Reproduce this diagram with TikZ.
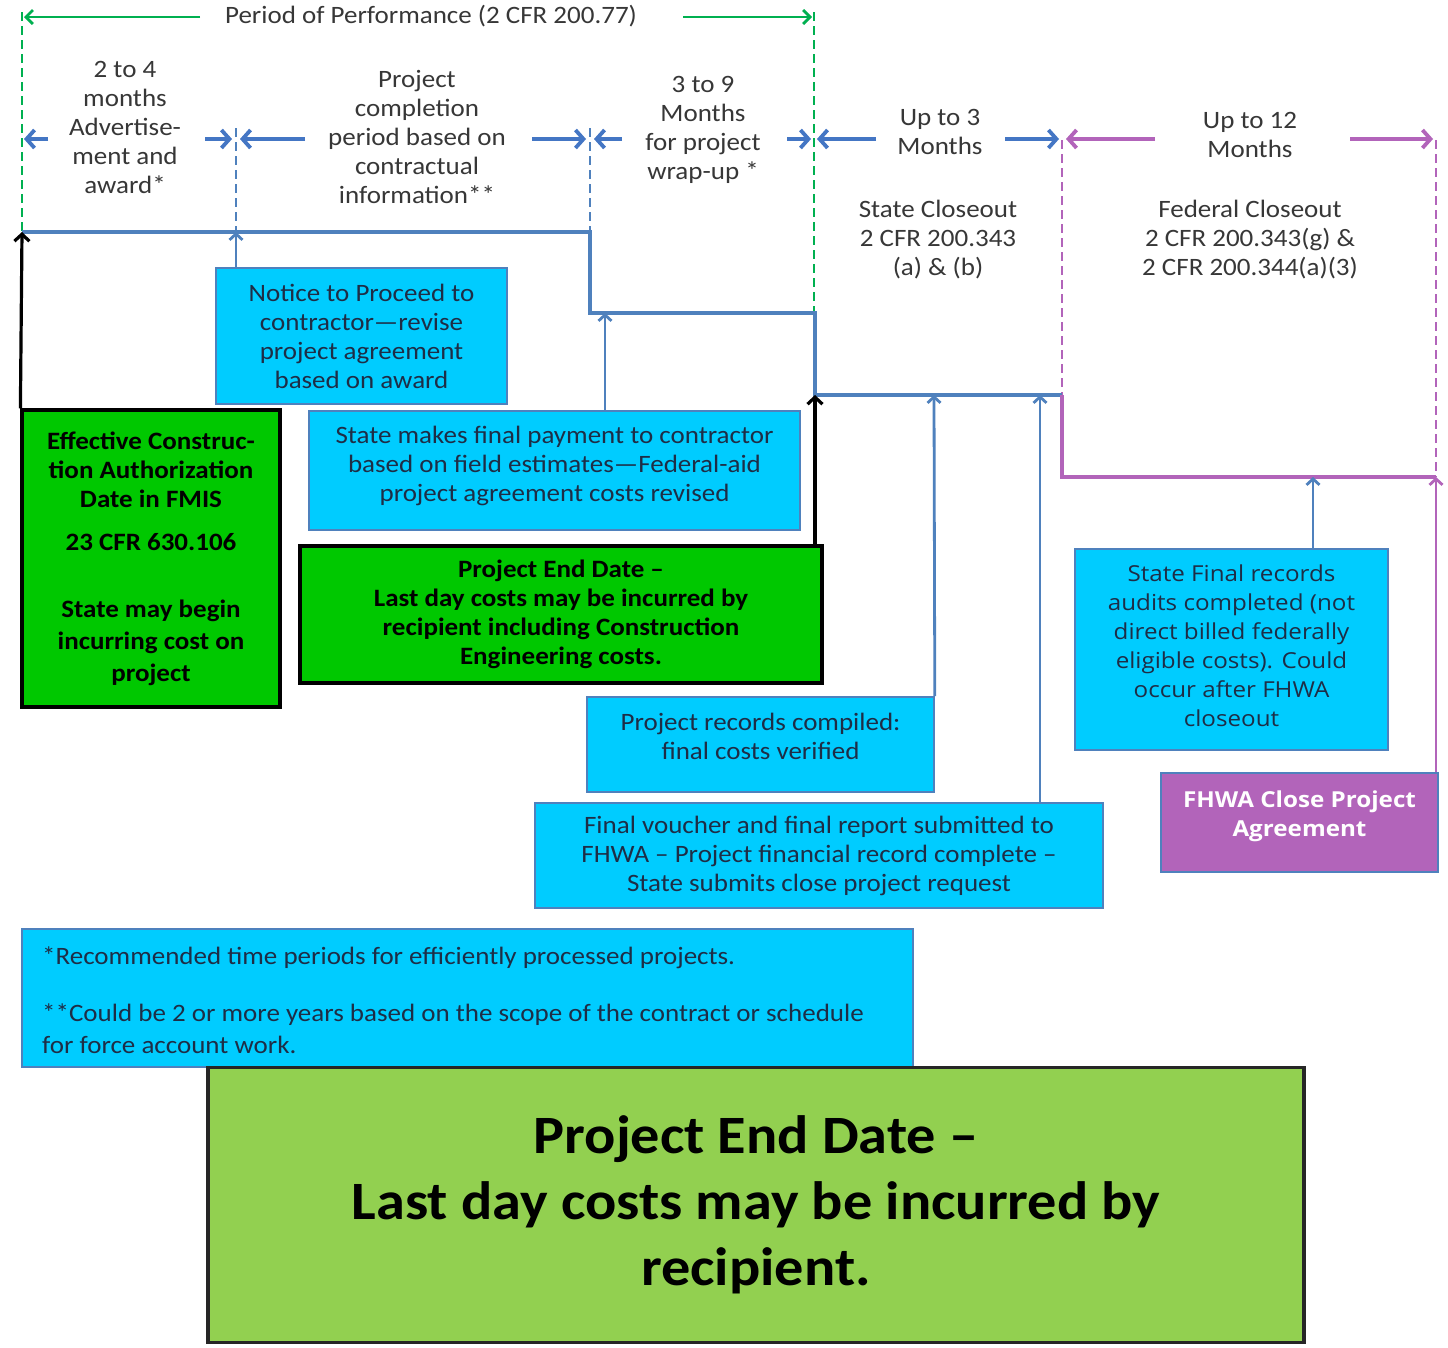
\documentclass[tikz,border=0pt]{standalone}
\usepackage{fontspec}
\setmainfont[FakeStretch=1.08]{Carlito}
\newfontfamily\altfont[FakeStretch=1.1]{Open Sans}
\usetikzlibrary{arrows.meta,calc}
\definecolor{lineblue}{RGB}{79,129,189}
\definecolor{hdrblue}{RGB}{68,118,196}
\definecolor{perfgreen}{RGB}{0,176,80}
\definecolor{closepurple}{RGB}{178,100,186}
\definecolor{boxcyan}{RGB}{0,204,255}
\definecolor{boxgreen}{RGB}{0,200,0}
\definecolor{endgreen}{RGB}{146,208,80}
\definecolor{txtgray}{RGB}{55,55,55}
\definecolor{txtnavy}{RGB}{30,45,70}
\begin{document}
\begin{tikzpicture}[x=1pt,y=-1pt,
  hdr/.style={align=center,text=txtgray,font=\fontsize{25}{29}\selectfont,inner sep=0pt},
  harrow/.style={draw=hdrblue,line width=3.8pt,-{Straight Barb[length=8pt,width=18pt]}},
  parrow/.style={draw=closepurple,line width=3.8pt,-{Straight Barb[length=8pt,width=18pt]}},
  garrow/.style={draw=perfgreen,line width=2.8pt,-{Straight Barb[length=7pt,width=14pt]}},
  gdash/.style={draw=perfgreen,line width=1.6pt,dash pattern=on 9pt off 5pt},
  bdash/.style={draw=lineblue,line width=1.6pt,dash pattern=on 9pt off 5pt},
  pdash/.style={draw=closepurple,line width=1.4pt,dash pattern=on 9pt off 5pt},
  tl/.style={draw=lineblue,line width=3.3pt},
  tlp/.style={draw=closepurple,line width=3.3pt},
  bup/.style={draw=lineblue,line width=2.8pt,-{Straight Barb[length=6pt,width=13pt]}},
  pup/.style={draw=closepurple,line width=2.8pt,-{Straight Barb[length=6pt,width=13pt]}},
  blkup/.style={draw=black,line width=3.2pt,-{Straight Barb[length=7pt,width=15pt]}},
  cbox/.style={draw=lineblue,line width=1.6pt,fill=boxcyan,align=center,text=txtnavy,
    font=\fontsize{25}{29}\selectfont,inner sep=0pt},
  gbox/.style={draw=black,line width=3.2pt,fill=boxgreen,align=center,text=black,
    font=\bfseries\fontsize{25}{29}\selectfont,inner sep=0pt},
]
\fill[white] (0,0) rectangle (1448,1347);
\useasboundingbox (0,0) rectangle (1448,1347);

% ---- dashed period markers
\draw[gdash] (22,12) -- (22,232);
\draw[gdash] (814,12) -- (814,313);
\draw[bdash] (236,128) -- (236,232);
\draw[bdash] (590,128) -- (590,232);
\draw[pdash] (1062,140) -- (1062,395);
\draw[pdash] (1436,140) -- (1436,477);

% ---- period of performance
\node[hdr] (pop) at (431,16) {Period of Performance (2 CFR 200.77)};
\coordinate (g1) at (200,17); \coordinate (g1e) at (24,17);
\coordinate (g2) at (683,17); \coordinate (g2e) at (812,17);
\draw[garrow] (g1) -- (g1e);
\draw[garrow] (g2) -- (g2e);

% ---- header labels
\node[hdr] (h1) at (125,127.5) {2 to 4\\months\\Advertise-\\ment and\\award*};
\node[hdr] (h2) at (417,137) {Project\\completion\\period based on\\contractual\\information**};
\node[hdr] (h3) at (703,130) {3 to 9\\Months\\for project\\wrap-up *};
\node[hdr] (h4) at (940,131.5) {Up to 3\\Months};
\node[hdr] (h5) at (1250,134.5) {Up to 12\\Months};
\node[hdr] (h6) at (938,239.5) {State Closeout\\2 CFR 200.343\\(a) \& (b)};
\node[hdr] (h7) at (1250,239.5) {Federal Closeout\\2 CFR 200.343(g) \&\\2 CFR 200.344(a)(3)};

% ---- header arrows
\draw[harrow] (48,139) -- (24,139);
\draw[harrow] (205,139) -- (232,139);
\draw[harrow] (305,139) -- (240,139);
\draw[harrow] (532,139) -- (586,139);
\draw[harrow] (622,139) -- (594,139);
\draw[harrow] (787,139) -- (811,139);
\draw[harrow] (876,139) -- (817,139);
\draw[harrow] (1005,139) -- (1059,139);
\draw[parrow] (1155,139) -- (1066,139);
\draw[parrow] (1350,139) -- (1433,139);

% ---- timeline
\coordinate (p0) at (22,232);
\coordinate (p1) at (236,232);
\coordinate (p2) at (590,232);
\coordinate (p3) at (590,313);
\coordinate (p4) at (605,313);
\coordinate (p5) at (815,313);
\coordinate (p6) at (815,395);
\coordinate (p7) at (934,395);
\coordinate (p8) at (1040,395);
\coordinate (p9) at (1062,395);
\coordinate (p10) at (1062,477);
\coordinate (p11) at (1313,477);
\coordinate (p12) at (1436,477);
\draw[tl] (p0) -- (p2) -- (p3) -- (p5) -- (p6) -- (p9);
\draw[tlp] (p9) -- (p10) -- (p12);

% ---- boxes
\node[cbox,minimum width=291pt,minimum height=136pt] (notice) at (361.5,336)
  {Notice to Proceed to\\contractor---revise\\project agreement\\based on award};
\node[gbox,minimum width=258pt,minimum height=297pt] (eff) at (151,558.5)
  {Effective Construc-\\tion Authorization\\Date in FMIS\\[14pt]23 CFR 630.106\\[38pt]
   State may begin\\[3pt]incurring cost on\\[3pt]project};
\node[cbox,minimum width=491pt,minimum height=119pt,text depth=14pt] (pay) at (554.5,470.5)
  {State makes final payment to contractor\\based on field estimates---Federal-aid\\project agreement costs revised};
\node[gbox,minimum width=522pt,minimum height=137pt] (pend) at (561,614.5)
  {Project End Date --\\Last day costs may be incurred by\\recipient including Construction\\Engineering costs.};
\node[cbox,minimum width=347pt,minimum height=95pt,text depth=16pt] (rec) at (760.5,744.5)
  {Project records compiled:\\final costs verified};
\node[cbox,minimum width=568pt,minimum height=105pt] (vou) at (819,855.5)
  {Final voucher and final report submitted to\\FHWA -- Project financial record complete --\\State submits close project request};
\node[cbox,minimum width=313pt,minimum height=201pt,text depth=8pt,font=\altfont\fontsize{22}{29}\selectfont] (sfr) at (1231.5,649.5)
  {State Final records\\audits completed (not\\direct billed federally\\eligible costs). Could\\occur after FHWA\\closeout};
\node[draw=lineblue,line width=1.6pt,fill=closepurple,minimum width=277pt,minimum height=99pt,text depth=17pt,
  align=center,text=white,font=\altfont\bfseries\fontsize{22}{29}\selectfont,inner sep=0pt] (fhwa) at (1299.5,822.5)
  {FHWA Close Project\\Agreement};
\node[cbox,minimum width=891pt,minimum height=138pt] (foot) at (467.5,998) {};
\node[anchor=west,align=left,inner sep=0pt,text=txtnavy,font=\fontsize{25}{32}\selectfont] (foottext) at (42,1000)
  {*Recommended time periods for efficiently processed projects.\\[25pt]
   **Could be 2 or more years based on the scope of the contract or schedule\\for force account work.};
\node[draw=black!85,line width=3.2pt,fill=endgreen,minimum width=1096pt,minimum height=275pt,
  align=center,text=black,font=\bfseries\fontsize{54}{66}\selectfont,inner sep=0pt] (big) at (756,1205)
  {Project End Date --\\Last day costs may be incurred by\\recipient.};

% ---- connectors
\draw[blkup] (eff.north west) -- (p0);
\draw[bup] (notice.north -| p1) -- (p1);
\draw[bup] (pay.north -| p4) -- (p4);
\draw[blkup] (pend.north -| p6) -- (p6);
\draw[bup] (rec.north east) -- (p7);
\draw[bup] (vou.north -| p8) -- (p8);
\draw[bup] (sfr.north -| p11) -- (p11);
\draw[pup] (fhwa.north -| p12) -- (p12);
\end{tikzpicture}
\end{document}
